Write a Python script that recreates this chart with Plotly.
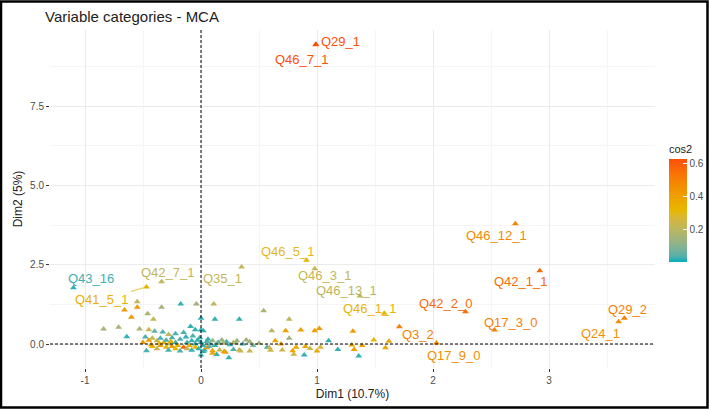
import plotly.graph_objects as go

# ---------------- data ----------------
# labelled categories
lab_names = ["Q29_1", "Q46_7_1", "Q46_12_1", "Q42_1_1", "Q42_2_0", "Q17_3_0",
             "Q29_2", "Q24_1", "Q3_2", "Q17_9_0", "Q46_1_1", "Q46_13_1",
             "Q46_3_1", "Q46_5_1", "Q35_1", "Q42_7_1", "Q41_5_1", "Q43_16"]
lab_dim1 = [0.99, 0.99, 2.71, 2.92, 2.28, 2.53, 3.65, 3.60, 1.71, 2.03, 1.58, 1.37,
            0.98, 0.91, 0.35, -0.34, -0.47, -1.10]
lab_dim2 = [9.45, 9.43, 3.79, 2.31, 1.02, 0.44, 0.81, 0.70, 0.54, 0.03, 0.97, 1.51,
            2.37, 2.64, 2.43, 1.96, 1.80, 1.77]
lab_cos2 = [0.62, 0.62, 0.48, 0.56, 0.55, 0.50, 0.50, 0.45, 0.50, 0.45, 0.33, 0.20,
            0.22, 0.30, 0.22, 0.21, 0.34, 0.02]
# label text offsets in pixels (right, down)
lab_dx = [25, -14, -19, -19, -19, 17, 3, -18, 19, 18, -14, -13, 10, -19, -19, 6, -44, 18]
lab_dy = [-3, 15, 12, 11, -8, -8, -9, 12, 8, 12, -5, -6, 7, -9, 12, -9, 13, -9]

# unlabelled categories
pt_dim1 = [-0.55, -0.66, -0.55, -0.60, -0.46, -0.41, -0.84, -0.71, -0.64, -0.53,
           -0.34, -0.175, -0.04, 0.11, 0.0, 0.12, 0.33, 0.54, 0.76, 0.61,
           0.73, 0.86, 0.98, 1.02, 1.31, 1.49, 1.62, 1.59, 1.10, 1.18,
           1.30, 1.32, 1.39, 1.36, 1.03, 1.00, 0.94, 0.90, 0.89, 0.80,
           0.79, 0.82, 0.70, 0.60, 0.57, 0.59, 0.69, 0.64, 0.76, 0.42,
           0.42, 0.34, 0.28, 0.36, 0.31, 0.24, 0.21, 0.135, 0.10, 0.16,
           0.18, 0.22, 0.02, 0.0,
           -0.45, -0.40, -0.33, -0.28, -0.22, -0.15, -0.09, -0.05, 0.0, -0.48,
           -0.50, -0.45, -0.42, -0.38, -0.35, -0.32, -0.30, -0.27, -0.25, -0.22,
           -0.20, -0.18, -0.15, -0.12, -0.10, -0.08, -0.05, -0.03, 0.0, 0.02,
           0.05, 0.08, 0.10, 0.12, 0.15, 0.25, 0.28, 0.39, -0.47, -0.42,
           -0.38, -0.35, -0.30, -0.28, -0.25, -0.22, -0.18, -0.12, -0.08, -0.05,
           0.02, 0.03, 0.05, 0.10, 0.20, 0.33, -0.36, -0.13, 0.06, 0.14,
           -0.26, -0.07, 0.07, 0.19, -0.43, -0.02, 0.30, 0.45, 0.50, -0.01]
pt_dim2 = [1.33, 1.07, 1.16, 0.84, 0.95, 0.78, 0.47, 0.53, 0.23, 0.47,
           1.16, 1.26, 1.26, 1.26, 0.81, 0.78, 0.78, 1.05, 0.78, 0.42,
           0.42, 0.44, 0.42, 0.49, 0.40, 0.13, 0.09, -0.12, 0.10, -0.17,
           -0.03, -0.17, -0.05, -0.38, -0.10, -0.22, -0.14, -0.08, -0.35, -0.32,
           -0.21, -0.10, -0.19, -0.20, -0.10, -0.12, 0.00, 0.10, 0.18, 0.07,
           -0.22, -0.22, -0.17, 0.00, 0.10, -0.43, -0.26, -0.33, -0.21, -0.19,
           0.13, 0.07, 0.42, -0.35,
           0.45, 0.40, 0.38, 0.30, 0.32, 0.36, 0.55, 0.45, 0.44, 0.22,
           0.05, 0.12, 0.18, 0.10, 0.18, 0.05, 0.12, 0.00, 0.20, 0.05,
           -0.05, 0.15, -0.10, 0.05, -0.05, 0.10, 0.00, 0.12, 0.05, -0.05,
           0.08, 0.00, 0.10, -0.05, 0.05, -0.02, 0.05, 0.13, -0.21, -0.08,
           -0.15, -0.05, -0.10, -0.20, -0.08, -0.15, -0.22, -0.15, -0.20, -0.10,
           -0.24, -0.19, -0.12, -0.29, -0.24, -0.19, 0.02, 0.22, 0.15, 0.02,
           0.08, 0.25, -0.08, 0.02, -0.02, -0.15, 0.03, -0.05, 0.02, 0.20]
pt_cos2 = [0.21, 0.42, 0.42, 0.42, 0.16, 0.22, 0.15, 0.15, 0.02, 0.15,
           0.16, 0.02, 0.14, 0.21, 0.02, 0.02, 0.02, 0.15, 0.21, 0.19,
           0.40, 0.40, 0.40, 0.42, 0.42, 0.31, 0.38, 0.38, 0.02, 0.02,
           0.40, 0.40, 0.40, 0.02, 0.28, 0.38, 0.24, 0.38, 0.02, 0.24,
           0.38, 0.38, 0.24, 0.24, 0.03, 0.23, 0.38, 0.38, 0.14, 0.15,
           0.24, 0.24, 0.03, 0.03, 0.14, 0.02, 0.40, 0.02, 0.38, 0.23,
           0.14, 0.03, 0.02, 0.02,
           0.22, 0.05, 0.03, 0.21, 0.03, 0.03, 0.02, 0.02, 0.02, 0.03,
           0.42, 0.40, 0.22, 0.22, 0.03, 0.33, 0.03, 0.22, 0.03, 0.03,
           0.33, 0.03, 0.58, 0.03, 0.33, 0.02, 0.02, 0.02, 0.02, 0.02,
           0.03, 0.03, 0.14, 0.02, 0.03, 0.02, 0.21, 0.14, 0.03, 0.33,
           0.22, 0.40, 0.33, 0.03, 0.42, 0.33, 0.03, 0.22, 0.02, 0.33,
           0.02, 0.02, 0.40, 0.38, 0.40, 0.23, 0.30, 0.02, 0.02, 0.08,
           0.35, 0.03, 0.06, 0.19, 0.40, 0.02, 0.14, 0.08, 0.16, 0.02]

x_ticks = [-1, 0, 1, 2, 3]
y_ticks = [0.0, 2.5, 5.0, 7.5]
y_ticktext = ["0.0", "2.5", "5.0", "7.5"]
cb_ticks = [0.2, 0.4, 0.6]
grad_cols = ["#00AFBB", "#E7B800", "#FC4E07"]

# ---------------- styling ----------------
FONT = "Liberation Sans, Arial, sans-serif"
C_MIN, C_MAX = 0.0, 0.625


def hex2rgb(h):
    h = h.lstrip("#")
    return [int(h[i:i + 2], 16) / 255.0 for i in (0, 2, 4)]


def srgb2lin(c):
    return c / 12.92 if c <= 0.04045 else ((c + 0.055) / 1.055) ** 2.4


def lin2srgb(c):
    c = max(0.0, min(1.0, c))
    return 12.92 * c if c <= 0.0031308 else 1.055 * c ** (1 / 2.4) - 0.055


WHITE = (0.95047, 1.0, 1.08883)


def rgb2lab(rgb):
    r, g, b = [srgb2lin(c) for c in rgb]
    X = 0.4124564 * r + 0.3575761 * g + 0.1804375 * b
    Y = 0.2126729 * r + 0.7151522 * g + 0.0721750 * b
    Z = 0.0193339 * r + 0.1191920 * g + 0.9503041 * b

    def f(t):
        return t ** (1 / 3) if t > 216 / 24389 else (24389 / 27 * t + 16) / 116
    fx, fy, fz = f(X / WHITE[0]), f(Y / WHITE[1]), f(Z / WHITE[2])
    return (116 * fy - 16, 500 * (fx - fy), 200 * (fy - fz))


def lab2rgb(lab):
    L, a, b = lab
    fy = (L + 16) / 116
    fx = fy + a / 500
    fz = fy - b / 200

    def finv(t):
        return t ** 3 if t ** 3 > 216 / 24389 else (116 * t - 16) / (24389 / 27)
    X, Y, Z = finv(fx) * WHITE[0], finv(fy) * WHITE[1], finv(fz) * WHITE[2]
    r = 3.2404542 * X - 1.5371385 * Y - 0.4985314 * Z
    g = -0.9692660 * X + 1.8760108 * Y + 0.0415560 * Z
    bb = 0.0556434 * X - 0.2040259 * Y + 1.0572252 * Z
    return "rgb(%d,%d,%d)" % tuple(round(lin2srgb(c) * 255) for c in (r, g, bb))


labs = [rgb2lab(hex2rgb(c)) for c in grad_cols]


def grad_at(t):
    seg = min(int(t * 2), 1)
    f = t * 2 - seg
    l1, l2 = labs[seg], labs[seg + 1]
    return lab2rgb(tuple(p + (q - p) * f for p, q in zip(l1, l2)))


NSTEP = 20
cscale = [[i / NSTEP, grad_at(i / NSTEP)] for i in range(NSTEP + 1)]


def col_for(v):
    return grad_at(max(0.0, min(1.0, (v - C_MIN) / (C_MAX - C_MIN))))


W, H = 709, 409
ML, MR, MT, MB = 50, 54, 30, 41
PW, PH = W - ML - MR, H - MT - MB

fig = go.Figure()

all_x = pt_dim1 + lab_dim1
all_y = pt_dim2 + lab_dim2
all_c = pt_cos2 + lab_cos2

CB_TOP, CB_BOT, CB_TITLE = 160, 262, 18
fig.add_trace(go.Scatter(
    x=all_x, y=all_y, mode="markers",
    marker=dict(symbol="triangle-up", size=6, color=all_c, colorscale=cscale,
                cmin=C_MIN, cmax=C_MAX, line=dict(width=0),
                colorbar=dict(
                    title=dict(text="cos2", side="top",
                               font=dict(family=FONT, size=11, color="#222")),
                    tickvals=cb_ticks, ticktext=["0.2", "0.4", "0.6"],
                    ticks="inside", ticklen=4, tickcolor="white", tickwidth=1,
                    tickfont=dict(family=FONT, size=10, color="#4d4d4d"),
                    thickness=18, len=CB_BOT - CB_TOP + CB_TITLE, lenmode="pixels",
                    xpad=0, ypad=0,
                    x=(669 - ML) / PW, xanchor="left", xref="paper",
                    y=(H - MB - CB_BOT) / PH, yanchor="bottom",
                    outlinewidth=0)),
    showlegend=False, hoverinfo="skip"))

# labels
for n, xv, yv, cv, dx, dy in zip(lab_names, lab_dim1, lab_dim2, lab_cos2, lab_dx, lab_dy):
    c = col_for(cv)
    if n == "Q41_5_1":
        fig.add_annotation(x=xv, y=yv, xref="x", yref="y", text=n, showarrow=True,
                           ax=dx, ay=dy, arrowhead=0, arrowwidth=0.8, arrowcolor=c,
                           standoff=3, font=dict(family=FONT, size=13, color=c))
    else:
        fig.add_annotation(x=xv, y=yv, xref="x", yref="y", text=n, showarrow=False,
                           xshift=dx, yshift=-dy, font=dict(family=FONT, size=13, color=c))

# dashed zero lines
fig.add_shape(type="line", xref="x", yref="paper", x0=0, x1=0, y0=0, y1=1,
              line=dict(color="black", width=1, dash="3px,2px"))
fig.add_shape(type="line", xref="paper", yref="y", x0=0, x1=1, y0=0, y1=0,
              line=dict(color="black", width=1, dash="3px,2px"))

# frame around whole picture
fig.add_shape(type="rect", xref="paper", yref="paper",
              x0=(1 - ML) / PW, x1=(707.5 - ML) / PW,
              y0=(H - MB - 407.5) / PH, y1=(H - MB - 1.5) / PH,
              line=dict(color="black", width=2.5), fillcolor="rgba(0,0,0,0)")

x_range = [(ML - 201) / 116.0, (W - MR - 201) / 116.0]
y_range = [(344 - (H - MB)) / 31.73, (344 - MT) / 31.73]

axis_common = dict(showline=False, zeroline=False, gridcolor="#ebebeb", gridwidth=1,
                   ticks="outside", ticklen=3, tickcolor="#333333", tickwidth=1,
                   tickfont=dict(family=FONT, size=10, color="#4d4d4d"))

fig.update_xaxes(range=x_range, tickvals=x_ticks, ticktext=[str(v) for v in x_ticks],
                 title=dict(text="Dim1 (10.7%)", font=dict(family=FONT, size=12, color="#222"),
                            standoff=4),
                 minor=dict(tickvals=[-0.5, 0.5, 1.5, 2.5, 3.5], showgrid=True,
                            gridcolor="#f5f5f5", gridwidth=0.6),
                 **axis_common)
fig.update_yaxes(range=y_range, tickvals=y_ticks, ticktext=y_ticktext,
                 title=dict(text="Dim2 (5%)", font=dict(family=FONT, size=12, color="#222"),
                            standoff=4),
                 minor=dict(tickvals=[1.25, 3.75, 6.25, 8.75], showgrid=True,
                            gridcolor="#f5f5f5", gridwidth=0.6),
                 **axis_common)

fig.update_layout(
    width=W, height=H,
    margin=dict(l=ML, r=MR, t=MT, b=MB, autoexpand=False),
    paper_bgcolor="white", plot_bgcolor="white",
    title=dict(text="Variable categories - MCA", x=45 / W, xanchor="left",
               y=1 - 17 / H, yanchor="middle", xref="container", yref="container",
               font=dict(family=FONT, size=15, color="#222")),
    font=dict(family=FONT),
)

fig.write_html("out.html", config={"displayModeBar": False},
               post_script="document.body.style.margin='0';document.body.style.overflow='hidden';")
